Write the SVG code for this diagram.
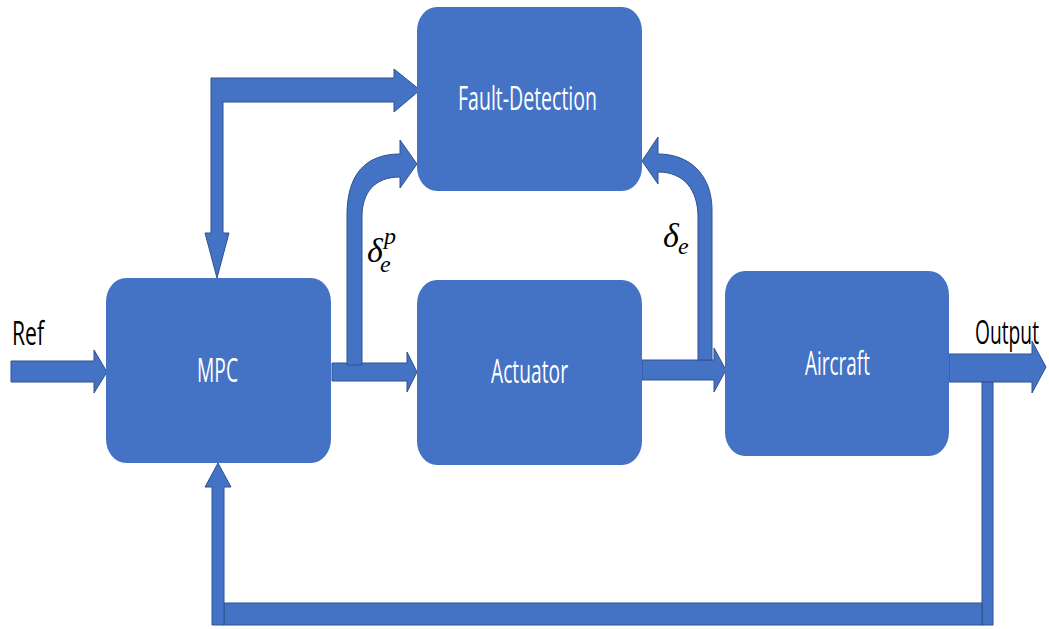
<svg xmlns="http://www.w3.org/2000/svg" width="1049" height="629" viewBox="0 0 1049 629">
  <style>
    .box { fill: #4472C4; }
    .arrow { fill: #4472C4; stroke: #2F528F; stroke-width: 1; stroke-linejoin: miter; }
    .label { font-family: "Open Sans", "Liberation Sans", sans-serif; font-size: 32px; fill: #FFFFFF; }
    .io { font-family: "Open Sans", "Liberation Sans", sans-serif; font-size: 32px; fill: #000000; }
    .math { font-family: "Liberation Serif", "DejaVu Serif", serif; font-style: italic; fill: #000000; }
  </style>
  <rect width="1049" height="629" fill="#FFFFFF"/>

  <!-- connectors -->
  <g id="connectors">
    <!-- Ref input -->
    <path class="arrow" d="M11,361 L94,361 L94,350 L107,372 L94,393 L94,382 L11,382 Z"/>
    <!-- MPC to Actuator -->
    <path class="arrow" d="M332,363 L407,363 L407,352 L417,372 L407,392 L407,381 L332,381 Z"/>
    <!-- Actuator to Aircraft -->
    <path class="arrow" d="M642,360 L714,360 L714,348 L726,370 L714,392 L714,380 L642,380 Z"/>
    <!-- Output -->
    <path class="arrow" d="M949,354 L1032,354 L1032,341 L1046,367 L1032,393 L1032,382 L949,382 Z"/>
    <!-- MPC <-> Fault-Detection bent arrow -->
    <path class="arrow" d="M211,78 L394,78 L394,69 L420,90 L394,112 L394,102 L223,102 L223,233 L229,233 L217,278 L205,233 L211,233 Z"/>
    <!-- delta_e^p branch to Fault-Detection -->
    <path class="arrow" d="M347,365 L347,215 C347,175 365,154 400,154 L400,140 L417,164 L400,188 L400,177 C375,177 362,192 362,217 L362,365 Z"/>
    <!-- delta_e branch to Fault-Detection -->
    <path class="arrow" d="M712,360 L712,210 C712,175 690,154 658,154 L658,137 L642,161 L658,184 L658,172 C684,172 698,190 698,217 L698,360 Z"/>
    <!-- feedback loop from Output back to MPC -->
    <rect class="arrow" x="982" y="382" width="11" height="243"/>
    <rect class="arrow" x="224" y="603" width="758" height="22"/>
    <path class="arrow" d="M212,625 L212,487 L205,487 L218,463 L231,487 L224,487 L224,625 Z"/>
  </g>

  <!-- nodes -->
  <g id="fault-detection">
    <rect class="box" x="417" y="7" width="225" height="184" rx="20" ry="24"/>
    <text class="label" x="458" y="110" textLength="139" lengthAdjust="spacingAndGlyphs">Fault-Detection</text>
  </g>
  <g id="mpc">
    <rect class="box" x="106" y="278" width="225" height="185" rx="20" ry="24"/>
    <text class="label" x="197" y="382" textLength="41" lengthAdjust="spacingAndGlyphs">MPC</text>
  </g>
  <g id="actuator">
    <rect class="box" x="417" y="280" width="225" height="185" rx="20" ry="24"/>
    <text class="label" x="491" y="383" textLength="77" lengthAdjust="spacingAndGlyphs">Actuator</text>
  </g>
  <g id="aircraft">
    <rect class="box" x="725" y="271" width="224" height="185" rx="20" ry="24"/>
    <text class="label" x="805" y="375" textLength="65" lengthAdjust="spacingAndGlyphs">Aircraft</text>
  </g>

  <!-- signal labels -->
  <g id="labels">
    <text class="io" x="12" y="345" textLength="32" lengthAdjust="spacingAndGlyphs">Ref</text>
    <text class="io" x="975" y="344" textLength="64" lengthAdjust="spacingAndGlyphs">Output</text>
    <!-- delta_e^p : base symbol with stacked sub/superscript -->
    <text class="math" x="367" y="262" font-size="34">δ<tspan x="384" y="244" font-size="24">p</tspan><tspan x="380" y="272" font-size="24">e</tspan></text>
    <!-- delta_e -->
    <text class="math" x="663" y="247" font-size="34">δ<tspan x="678" y="254" font-size="24">e</tspan></text>
  </g>
</svg>
